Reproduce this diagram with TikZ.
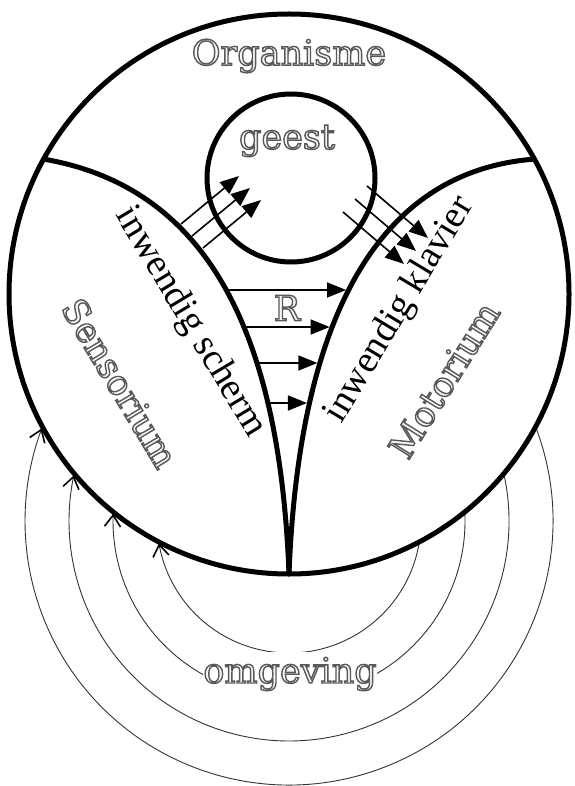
\documentclass[tikz,border=0pt]{standalone}
\usepackage{fontspec}
\setmainfont{Liberation Serif}
\newfontfamily\holfont{DejaVu Serif}
\usetikzlibrary{arrows.meta,intersections}

% hollow grey lettering (stroked glyphs with a pale filling)
\newcommand{\hol}[1]{\special{pdf:literal direct 2 Tr 1.4 w 0.35 G 0.97 g}#1\special{pdf:literal direct 0 Tr 0 g 0 G}}

\tikzset{
  grens/.style={line width=5pt},
  pijl/.style={line width=1.6pt, -{Triangle[length=19pt,width=15pt]}},
  golf/.style={line width=0.9pt, black!80},
  golfpunt/.style={line width=1.6pt, black, line join=miter},
  holtekst/.style={font=\holfont\fontsize{35}{40}\selectfont},
  zwarttekst/.style={font=\fontsize{38}{44}\selectfont}
}

\begin{document}
\begin{tikzpicture}[x=1pt,y=-1pt]
\useasboundingbox (0,0) rectangle (574,786);

% screen and keyboard labels
\node[zwarttekst, rotate=-59] (schermtekst) at (190,322) {inwendig scherm};
\node[zwarttekst, rotate=59] (klaviertekst) at (400,310) {inwendig klavier};

% centres of the organism and of the surrounding rings
\coordinate (o) at (289,294);
\coordinate (m) at (289,521);

% rings of the surroundings, each with an open head at the skin
\foreach \r/\a/\t/\p/\q in {132/170.9/169.6/115.9/45.9,176/182.9/181.9/127.9/57.9,220/192.4/191.6/137.4/67.4,264/200.9/200.25/145.9/75.9}{
  \path (m) ++(180-\a:\r) coordinate (v\r);
  \path (m) ++(\t:\r) coordinate (w\r);
  \draw[golf] (v\r) arc[start angle=180-\a, end angle=\a, radius=\r];
  \draw[golfpunt] (w\r) ++(\p:14) -- (w\r) -- ++(\q:14);
}
\node[holtekst, fill=white, inner sep=0pt, text height=31pt, text depth=17pt, anchor=base] (omgeving) at (290,683) {\hol{omgeving}};

% organism and its parts
\draw[grens] (o) circle[radius=280];
\path (o) ++(208.8:280) coordinate (lj);
\path (o) ++(-28.8:280) coordinate (rj);
\path (o) ++(90:280) coordinate (bodem);
\draw[grens, name path=scherm] (lj) .. controls (212,188) and (280,340) .. (bodem);
\draw[grens, name path=klavier] (rj) .. controls (366,172) and (298,340) .. (bodem);
\node[draw, circle, line width=5pt, minimum size=168pt, inner sep=0pt] (geest) at (291,178) {};

% screen to mind, mind to keyboard
\foreach \k in {0,1,2}{
  \coordinate (s\k) at (181+11*\k,224+12*\k);
  \coordinate (g\k) at (239+11*\k,176+12*\k);
  \draw[pijl] (s\k) -- (g\k);
  \coordinate (h\k) at (367-12*\k,186+13*\k);
  \coordinate (k\k) at (428-12*\k,238+13*\k);
  \draw[pijl] (h\k) -- (k\k);
}

% reflexes from screen to keyboard
\foreach \y [count=\i] in {290,327,363,403}{
  \path[name path=lijn\i] (150,\y) -- (450,\y);
  \path[name intersections={of=scherm and lijn\i, by=a\i}];
  \path[name intersections={of=klavier and lijn\i, by=b\i}];
  \draw[pijl, shorten >=2.5pt] (a\i) -- (b\i);
}

% region labels
\node[holtekst] (organisme) at (289,56) {\hol{Organisme}};
\node[holtekst] (geestlabel) at (287,141) {\hol{geest}};
\node[holtekst] (reflex) at (287,308) {\hol{R}};
\node[holtekst, rotate=-59] (sensorium) at (120,383) {\hol{Sensorium}};
\node[holtekst, rotate=58] (motorium) at (444,380) {\hol{Motorium}};

\end{tikzpicture}
\end{document}
